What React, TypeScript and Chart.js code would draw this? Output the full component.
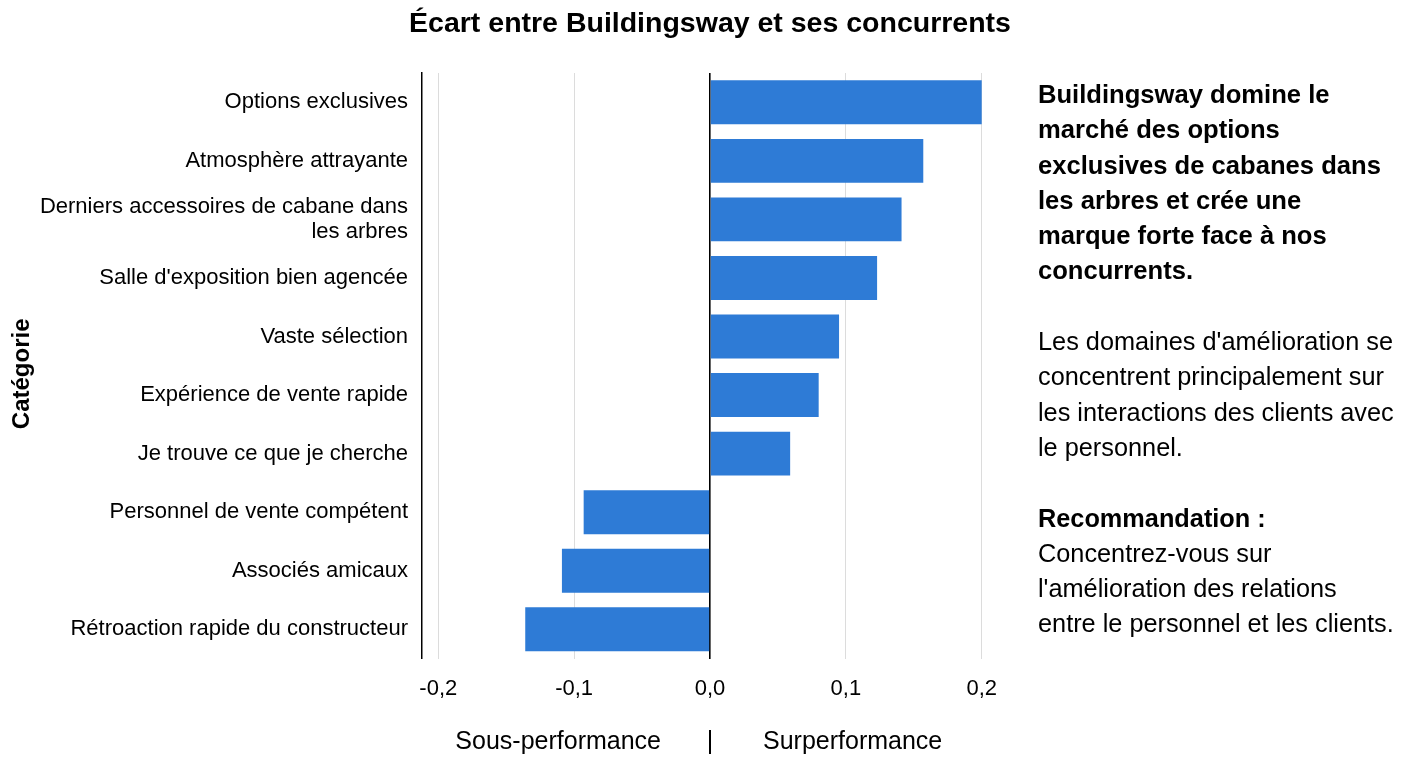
import React, { useEffect, useRef } from 'react';
import { Chart, registerables } from 'chart.js';

Chart.register(...registerables);

const FONT = '"Liberation Sans", Arial, Helvetica, sans-serif';

const categories: (string | string[])[] = [
  'Options exclusives',
  'Atmosphère attrayante',
  ['Derniers accessoires de cabane dans', 'les arbres'],
  "Salle d'exposition bien agencée",
  'Vaste sélection',
  'Expérience de vente rapide',
  'Je trouve ce que je cherche',
  'Personnel de vente compétent',
  'Associés amicaux',
  'Rétroaction rapide du constructeur',
];

const gapValues = [0.2, 0.157, 0.141, 0.123, 0.095, 0.08, 0.059, -0.093, -0.109, -0.136];

const xTickValues = [-0.2, -0.1, 0, 0.1, 0.2];

const chartTitle = 'Écart entre Buildingsway et ses concurrents';
const yTitle = 'Catégorie';
const leftCaption = 'Sous-performance';
const rightCaption = 'Surperformance';

const summaryLines = [
  'Buildingsway domine le',
  'marché des options',
  'exclusives de cabanes dans',
  'les arbres et crée une',
  'marque forte face à nos',
  'concurrents.',
];
const detailLines = [
  "Les domaines d'amélioration se",
  'concentrent principalement sur',
  'les interactions des clients avec',
  'le personnel.',
];
const recoTitle = 'Recommandation :';
const recoLines = [
  'Concentrez-vous sur',
  "l'amélioration des relations",
  'entre le personnel et les clients.',
];

// Page title centred on the canvas, the rotated category-axis title,
// and captions under the x axis around the zero line
const captionPlugin = {
  id: 'perfCaptions',
  afterDraw(chart: any) {
    const { ctx, scales, width, chartArea } = chart;
    ctx.save();
    ctx.fillStyle = '#000';
    ctx.textBaseline = 'middle';
    ctx.textAlign = 'center';
    ctx.font = `bold 28.5px ${FONT}`;
    ctx.fillText(chartTitle, width / 2 + 6, 24);

    ctx.save();
    ctx.translate(22, (chartArea.top + chartArea.bottom) / 2 + 8);
    ctx.rotate(-Math.PI / 2);
    ctx.font = `bold 24px ${FONT}`;
    ctx.fillText(yTitle, 0, 0);
    ctx.restore();

    const x0 = scales.x.getPixelForValue(0);
    const y = 742;
    ctx.font = `25px ${FONT}`;
    ctx.textAlign = 'right';
    ctx.fillText(leftCaption, x0 - 49, y);
    ctx.textAlign = 'center';
    ctx.fillText('|', x0, y);
    ctx.textAlign = 'left';
    ctx.fillText(rightCaption, x0 + 53, y);
    ctx.restore();
  },
};

export default function App() {
  const canvasRef = useRef<HTMLCanvasElement | null>(null);

  useEffect(() => {
    document.body.style.margin = '0';
    const canvas = canvasRef.current;
    if (!canvas) return;
    const chart = new Chart(canvas, {
      type: 'bar',
      data: {
        labels: categories as any,
        datasets: [
          {
            data: gapValues,
            backgroundColor: '#2E7BD6',
            borderWidth: 0,
            barPercentage: 0.75,
            categoryPercentage: 1,
          },
        ],
      },
      options: {
        indexAxis: 'y',
        animation: false,
        responsive: true,
        maintainAspectRatio: false,
        layout: { padding: { left: 0, right: 410, top: 73, bottom: 49 } },
        plugins: {
          legend: { display: false },
          tooltip: { enabled: false },
          title: { display: false },
        },
        scales: {
          x: {
            min: -0.212,
            max: 0.212,
            afterBuildTicks(scale: any) {
              scale.ticks = xTickValues.map((v) => ({ value: v }));
            },
            ticks: {
              color: '#000',
              font: { family: FONT, size: 22 },
              padding: 17,
              callback: (v: any) => Number(v).toFixed(1).replace('-0.0', '0.0').replace('.', ','),
            },
            grid: {
              drawTicks: false,
              color: (c: any) => (c.tick && c.tick.value === 0 ? '#000' : '#dcdcdc'),
              lineWidth: (c: any) => (c.tick && c.tick.value === 0 ? 1.6 : 1),
            },
            border: { display: false },
          },
          y: {
            afterFit(scale: any) {
              scale.width = 422;
            },
            ticks: {
              color: '#000',
              font: { family: FONT, size: 22, lineHeight: 1.15 },
              padding: 14,
            },
            grid: { display: false, drawTicks: false },
            border: { display: true, color: '#000', width: 1.5 },
            title: { display: false },
          },
        },
      },
      plugins: [captionPlugin],
    });
    return () => chart.destroy();
  }, []);

  const lineStyle: React.CSSProperties = { whiteSpace: 'nowrap', height: 35.3 };

  return (
    <div style={{ position: 'fixed', left: 0, top: 0, width: 1408, height: 768, background: '#fff' }}>
      <canvas ref={canvasRef} />
      <div
        style={{
          position: 'absolute',
          left: 1038,
          top: 77,
          fontFamily: FONT,
          fontSize: 25.3,
          lineHeight: '35.3px',
          color: '#000',
        }}
      >
        {summaryLines.map((t) => (
          <div key={t} style={{ ...lineStyle, fontWeight: 'bold', fontSize: 25.6 }}>{t}</div>
        ))}
        <div style={lineStyle} />
        {detailLines.map((t) => (
          <div key={t} style={lineStyle}>{t}</div>
        ))}
        <div style={lineStyle} />
        <div style={{ ...lineStyle, fontWeight: 'bold' }}>{recoTitle}</div>
        {recoLines.map((t) => (
          <div key={t} style={lineStyle}>{t}</div>
        ))}
      </div>
    </div>
  );
}
